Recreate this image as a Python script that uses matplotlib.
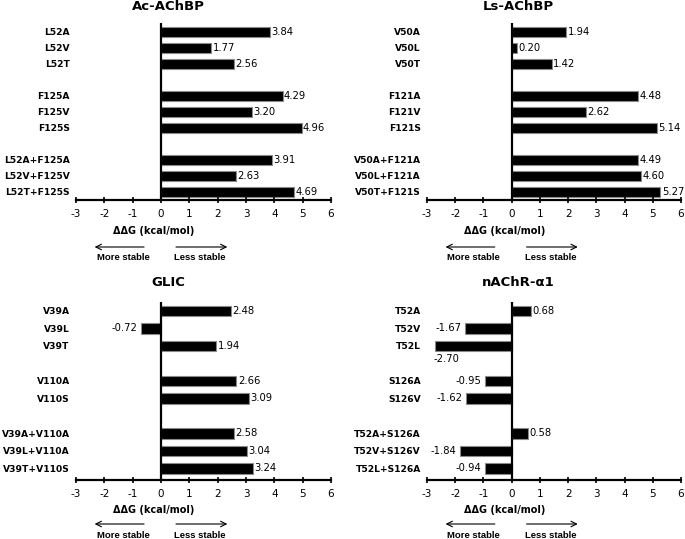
import matplotlib
matplotlib.use("Agg")
import matplotlib.pyplot as plt
import numpy as np

plt.rcParams["axes.unicode_minus"] = False

# --- data ---
ac_labels = ["L52A", "L52V", "L52T", "F125A", "F125V", "F125S",
             "L52A+F125A", "L52V+F125V", "L52T+F125S"]
ac_values = [3.84, 1.77, 2.56, 4.29, 3.20, 4.96, 3.91, 2.63, 4.69]
ac_groups = [3, 3, 3]

ls_labels = ["V50A", "V50L", "V50T", "F121A", "F121V", "F121S",
             "V50A+F121A", "V50L+F121A", "V50T+F121S"]
ls_values = [1.94, 0.20, 1.42, 4.48, 2.62, 5.14, 4.49, 4.60, 5.27]
ls_groups = [3, 3, 3]

glic_labels = ["V39A", "V39L", "V39T", "V110A", "V110S",
               "V39A+V110A", "V39L+V110A", "V39T+V110S"]
glic_values = [2.48, -0.72, 1.94, 2.66, 3.09, 2.58, 3.04, 3.24]
glic_groups = [3, 2, 3]

nachr_labels = ["T52A", "T52V", "T52L", "S126A", "S126V",
                "T52A+S126A", "T52V+S126V", "T52L+S126A"]
nachr_values = [0.68, -1.67, -2.70, -0.95, -1.62, 0.58, -1.84, -0.94]
nachr_groups = [3, 2, 3]

xticks = [-3, -2, -1, 0, 1, 2, 3, 4, 5, 6]

W, H = 685, 539
fig = plt.figure(figsize=(W / 100, H / 100), dpi=100)


def row_positions(groups):
    pos = []
    r = 0
    for g in groups:
        pos.extend(range(r, r + g))
        r += g + 1
    return np.array(pos)


def panel(rect_px, title, labels, values, groups, offs):
    x0, y_top, x1, y_bot, ylim = rect_px
    ax = fig.add_axes([x0 / W, 1 - y_bot / H, (x1 - x0) / W, (y_bot - y_top) / H])
    rows = row_positions(groups)
    ax.barh(rows, values, height=0.58, color="black", edgecolor="#8a8a8a", linewidth=0.8)
    ax.set_xlim(-3, 6)
    ax.set_ylim(*ylim)
    ax.axvline(0, color="black", lw=1.6)
    for s in ["top", "right", "left"]:
        ax.spines[s].set_visible(False)
    ax.spines["bottom"].set_linewidth(1.6)
    ax.set_xticks(xticks)
    ax.tick_params(axis="x", direction="inout", length=5, width=1.2, labelsize=7.5, pad=4)
    ax.set_yticks(rows)
    ax.set_yticklabels(labels, fontsize=6.6, fontweight="bold")
    ax.tick_params(axis="y", length=0, pad=4.5)

    for r, v in zip(rows, values):
        txt = f"{v:.2f}"
        if v >= 0:
            ax.text(v + 0.05, r, txt, ha="left", va="center", fontsize=7.2)
        elif v < -2.5:
            ax.text(v + 0.4, r + 0.75, txt, ha="center", va="center", fontsize=7.2)
        else:
            ax.text(v - 0.12, r, txt, ha="right", va="center", fontsize=7.2)

    tr = ax.get_xaxis_transform()
    h = y_bot - y_top
    ax.text(0.25, 1 + offs[0] / h, title, transform=tr, ha="center", va="center",
            fontsize=9.5, fontweight="bold")
    ax.text(-0.25, -offs[1] / h, "\u0394\u0394G (kcal/mol)", transform=tr,
            ha="center", va="center", fontsize=7, fontweight="bold")
    ya = -offs[2] / h
    ax.annotate("", xy=(-2.44, ya), xytext=(-0.5, ya), xycoords=tr, textcoords=tr,
                arrowprops=dict(arrowstyle="->", lw=0.8, color="black"), annotation_clip=False)
    ax.annotate("", xy=(2.44, ya), xytext=(0.43, ya), xycoords=tr, textcoords=tr,
                arrowprops=dict(arrowstyle="->", lw=0.8, color="black"), annotation_clip=False)
    ys = -offs[3] / h
    ax.text(-1.34, ys, "More stable", transform=tr, ha="center", va="center",
            fontsize=6.8, fontweight="bold", family="Liberation Sans")
    ax.text(1.37, ys, "Less stable", transform=tr, ha="center", va="center",
            fontsize=6.8, fontweight="bold", family="Liberation Sans")
    return ax


top_ylim = (10.5, -0.56)
bot_ylim = (9.66, -0.51)
top_offs = (16, 31, 47, 58)
bot_offs = (19, 30, 44, 55)

panel((76, 23, 331, 200, top_ylim), "Ac-AChBP", ac_labels, ac_values, ac_groups, top_offs)
panel((427, 23, 681, 200, top_ylim), "Ls-AChBP", ls_labels, ls_values, ls_groups, top_offs)
panel((76, 302, 331, 480, bot_ylim), "GLIC", glic_labels, glic_values, glic_groups, bot_offs)
panel((427, 302, 681, 480, bot_ylim), "nAChR-\u03b11", nachr_labels, nachr_values, nachr_groups, bot_offs)

fig.savefig("out.png", dpi=100)
